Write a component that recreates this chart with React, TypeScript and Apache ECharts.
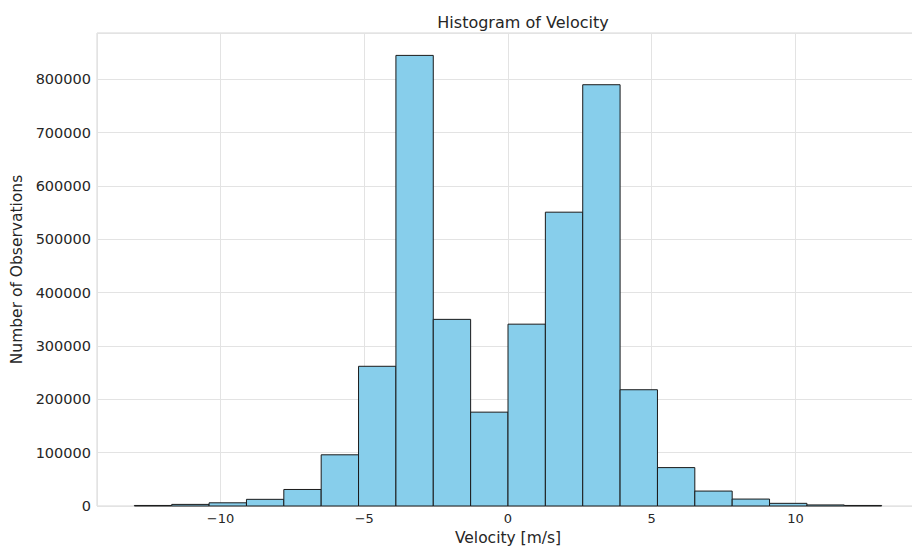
import React, { useEffect, useRef } from "react";
import * as echarts from "echarts";

const binEdges = [-13, -11.7, -10.4, -9.1, -7.8, -6.5, -5.2, -3.9, -2.6, -1.3, 0, 1.3, 2.6, 3.9, 5.2, 6.5, 7.8, 9.1, 10.4, 11.7, 13];
const counts = [1000, 3000, 6000, 12500, 31000, 96000, 262000, 845000, 350000, 176000, 341000, 551000, 790000, 218000, 72000, 28000, 13000, 5000, 2000, 1000];
const yTicks = [0, 100000, 200000, 300000, 400000, 500000, 600000, 700000, 800000];
const xTicks = [-10, -5, 0, 5, 10];

const FONT = "DejaVu Sans";

export default function App() {
  const ref = useRef<HTMLDivElement>(null);
  useEffect(() => {
    const el = ref.current!;
    const chart = echarts.init(el, undefined, { renderer: "svg" });
    const data = counts.map((c, i) => [binEdges[i], binEdges[i + 1], c]);
    chart.setOption({
      animation: false,
      backgroundColor: "#ffffff",
      textStyle: { fontFamily: FONT },
      title: {
        text: "Histogram of Velocity",
        left: 518,
        top: 9,
        textAlign: "center",
        textStyle: { fontFamily: FONT, fontSize: 16, fontWeight: "normal", color: "#262626" },
      },
      grid: {
        left: 97,
        right: 0,
        top: 33,
        bottom: 40,
        containLabel: false,
        outerBoundsMode: "none",
        show: true,
        borderColor: "#d6d6d6",
        borderWidth: 1,
        backgroundColor: "transparent",
      },
      xAxis: {
        type: "value",
        min: -14.3,
        max: 14.3,
        splitNumber: 6,
        name: "Velocity [m/s]",
        nameLocation: "middle",
        nameGap: 20,
        nameTextStyle: { fontFamily: FONT, fontSize: 15.5, color: "#262626" },
        axisLine: { show: false },
        axisTick: { show: false },
        axisLabel: {
          fontFamily: FONT,
          fontSize: 13,
          color: "#262626",
          margin: 6,
          showMinLabel: false,
          showMaxLabel: false,
          formatter: (v: number) => (xTicks.includes(v) ? (v < 0 ? "\u2212" + Math.abs(v) : String(v)) : ""),
        },
        splitLine: { show: true, lineStyle: { color: "#e3e3e3", width: 1 } },
      },
      yAxis: {
        type: "value",
        min: 0,
        max: 887000,
        interval: 100000,
        name: "Number of Observations",
        nameLocation: "middle",
        nameGap: 70,
        nameTextStyle: { fontFamily: FONT, fontSize: 15.5, color: "#262626" },
        axisLine: { show: false },
        axisTick: { show: false },
        axisLabel: {
          fontFamily: FONT,
          fontSize: 14.5,
          color: "#262626",
          margin: 6,
          showMaxLabel: false,
          formatter: (v: number) => (yTicks.includes(v) ? String(v) : ""),
        },
        splitLine: { show: true, lineStyle: { color: "#e3e3e3", width: 1 } },
      },
      series: [
        {
          type: "custom",
          data,
          encode: { x: [0, 1], y: 2 },
          renderItem: (params: any, api: any) => {
            const x0 = api.value(0);
            const x1 = api.value(1);
            const y = api.value(2);
            const p0 = api.coord([x0, y]);
            const p1 = api.coord([x1, 0]);
            return {
              type: "rect",
              shape: { x: p0[0], y: p0[1], width: p1[0] - p0[0], height: p1[1] - p0[1] },
              style: { fill: "#87ceeb", stroke: "#1a1a1a", lineWidth: 1 },
            };
          },
        },
      ],
    });
    return () => chart.dispose();
  }, []);
  return (
    <div style={{ position: "absolute", left: 0, top: 0, width: 912, height: 546, overflow: "hidden" }}>
      <div ref={ref} style={{ width: 919, height: 546 }} />
    </div>
  );
}
